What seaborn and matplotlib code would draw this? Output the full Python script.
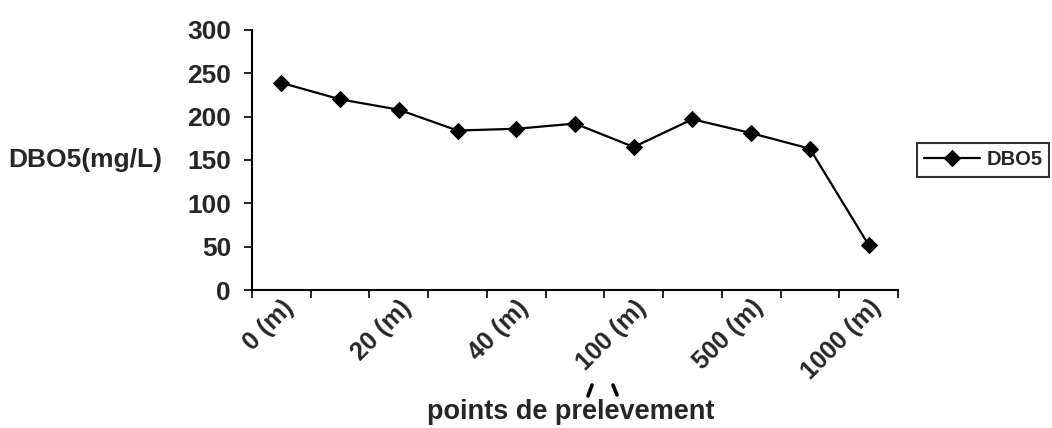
"""
plot.py
-------
DBO5 (mg/L) along the sampling points (distance in m).
"""

import numpy as np
import pandas as pd
import matplotlib
matplotlib.use("Agg")
import matplotlib.pyplot as plt
import matplotlib.transforms as mtransforms
from matplotlib.lines import Line2D
import seaborn as sns

# sampling points, only every other one carries a label on the axis
points = ['0 (m)', '10 (m)', '20 (m)', '30 (m)', '40 (m)', '50 (m)',
          '100 (m)', '200 (m)', '500 (m)', '700 (m)', '1000 (m)']
dbo5 = [239, 220, 208, 184, 186, 192, 165, 197, 181, 163, 52]
y_ticks = [0, 50, 100, 150, 200, 250, 300]

sns.set_style('white')
plt.rcParams['font.family'] = ['Liberation Sans', 'DejaVu Sans']
plt.rcParams['font.weight'] = 'bold'

df = pd.DataFrame({'pos': np.arange(len(points)), 'DBO5': dbo5})

fig = plt.figure(figsize=(10.52, 4.28), dpi=100)
ax = fig.add_axes([0.2395, 0.3224, 0.8536 - 0.2395, 0.93 - 0.3224])

sns.lineplot(data=df, x='pos', y='DBO5', ax=ax, color='black', lw=1.6,
             marker='D', markersize=8.5, markeredgecolor='black',
             label='DBO5')

ax.set_xlim(-0.5, len(points) - 0.5)
ax.set_ylim(0, 300)
ax.set_yticks(y_ticks)
ax.set_yticklabels([str(v) for v in y_ticks], fontsize=19, fontweight='bold')

# category boundaries carry the tick marks, centres carry the labels
ax.set_xticks(np.arange(len(points) + 1) - 0.5)
ax.set_xticklabels([])
ax.set_xticks(np.arange(0, len(points), 2), minor=True)
ax.set_xticklabels(points[::2], minor=True, rotation=45, ha='right',
                   rotation_mode='anchor', fontsize=18, fontweight='bold')
shift = mtransforms.ScaledTranslation(20 / 100, 0, fig.dpi_scale_trans)
for lab in ax.get_xticklabels(minor=True):
    lab.set_transform(lab.get_transform() + shift)
ax.tick_params(axis='x', which='major', direction='out', length=6,
               width=1.2, color='black', bottom=True)
ax.tick_params(axis='x', which='minor', length=0, pad=4)
ax.tick_params(axis='y', direction='out', length=6, width=1.2,
               color='black', left=True, pad=9)

for s in ['top', 'right']:
    ax.spines[s].set_visible(False)
for s in ['left', 'bottom']:
    ax.spines[s].set_color('black')
    ax.spines[s].set_linewidth(1.5)

ax.set_xlabel('')
ax.set_ylabel('')
fig.text(0.008, 0.625, 'DBO5(mg/L)', fontsize=19, fontweight='bold',
         ha='left', va='center')
fig.text(0.543, 0.038, 'points de prelevement', fontsize=19.5,
         fontweight='bold', ha='center', va='center')

# hand-written accent strokes above "prelevement" (pixel positions)
W, H = 1052, 428
for (x0, y0), (x1, y1) in [((588, 396), (592, 385)),
                           ((613, 385), (617, 395))]:
    fig.add_artist(Line2D([x0 / W, x1 / W], [1 - y0 / H, 1 - y1 / H],
                          transform=fig.transFigure, color='black',
                          lw=2.6, solid_capstyle='round'))

leg = ax.legend(loc='center left', bbox_to_anchor=(1.029, 0.5),
                frameon=True, fancybox=False, fontsize=14.5,
                handlelength=2.8, handletextpad=0.3, borderpad=0.35,
                borderaxespad=0)
leg.get_frame().set_edgecolor('black')
leg.get_frame().set_linewidth(1.5)
for t in leg.get_texts():
    t.set_fontweight('bold')

fig.savefig('out.png', dpi=100)
